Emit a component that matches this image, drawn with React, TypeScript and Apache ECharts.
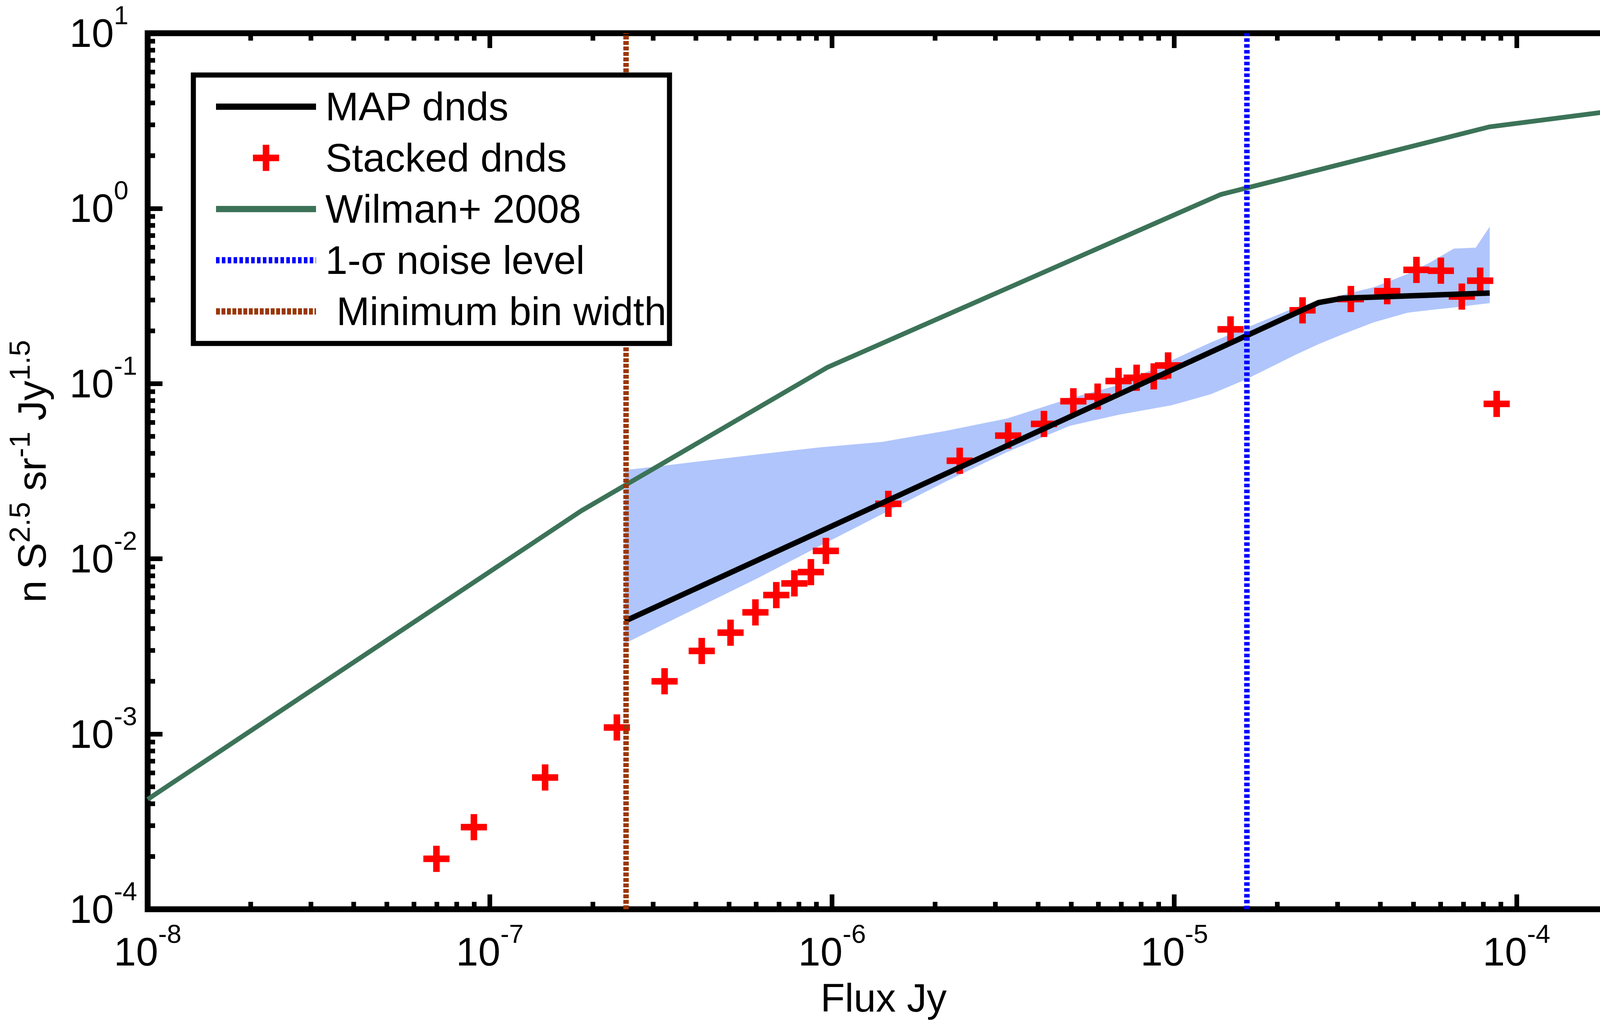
import React, { useEffect, useRef } from "react";
import * as echarts from "echarts";

const FONT = '"Liberation Sans", Arial, Helvetica, sans-serif';

const X_MIN = 1e-8;
const X_MAX = 2e-4;
const Y_MIN = 1e-4;
const Y_MAX = 10;

// Stacked dnds (red crosses)
const stackedFlux = [
  6.98e-8, 8.98e-8, 1.45e-7, 2.35e-7, 3.24e-7, 4.16e-7, 5.05e-7, 5.97e-7, 6.87e-7,
  7.76e-7, 8.67e-7, 9.59e-7, 1.46e-6, 2.36e-6, 3.27e-6, 4.16e-6, 5.07e-6, 5.97e-6,
  6.87e-6, 7.76e-6, 8.71e-6, 9.59e-6, 1.46e-5, 2.37e-5, 3.28e-5, 4.19e-5, 5.1e-5,
  6.01e-5, 6.92e-5, 7.83e-5, 8.75e-5,
];
const stackedDnds = [
  1.94e-4, 2.94e-4, 5.65e-4, 1.09e-3, 2.0e-3, 2.98e-3, 3.79e-3, 4.95e-3, 6.21e-3,
  7.24e-3, 8.4e-3, 0.0111, 0.0206, 0.0363, 0.0505, 0.0589, 0.0793, 0.0843,
  0.1035, 0.108, 0.11, 0.127, 0.204, 0.262, 0.304, 0.337, 0.446,
  0.441, 0.314, 0.387, 0.0766,
];

// MAP dnds (black line)
const mapFlux = [2.48e-7, 2.64e-5, 3.1e-5, 8.35e-5];
const mapDnds = [4.41e-3, 0.29, 0.307, 0.329];

// Wilman+ 2008 (green line)
const wilmanFlux = [1e-8, 1.85e-7, 9.7e-7, 1.365e-5, 8.32e-5, 2e-4];
const wilmanDnds = [4.24e-4, 0.0188, 0.124, 1.2, 2.92, 3.64];

// Uncertainty band
const bandFlux = [
  2.48e-7, 3.21e-7, 6.03e-7, 9.25e-7, 1.4e-6, 2.14e-6, 3.24e-6, 4.94e-6, 6.9e-6,
  9.84e-6, 1.28e-5, 1.62e-5, 2.26e-5, 2.64e-5, 3.1e-5, 3.83e-5, 4.81e-5, 5.58e-5,
  6.56e-5, 7.6e-5, 8.35e-5,
];
const bandUpper = [
  0.0321, 0.034, 0.0394, 0.0433, 0.0465, 0.0537, 0.0632, 0.0822, 0.0984,
  0.136, 0.172, 0.208, 0.272, 0.296, 0.321, 0.355, 0.423, 0.491,
  0.59, 0.597, 0.787,
];
const bandLower = [
  3.29e-3, 4.22e-3, 7.71e-3, 0.0119, 0.018, 0.0275, 0.0406, 0.0574, 0.0665,
  0.0753, 0.0871, 0.1057, 0.146, 0.168, 0.191, 0.224, 0.254, 0.263,
  0.272, 0.282, 0.288,
];

const noiseLevel = 1.63e-5;
const minBinWidth = 2.5e-7;

// Ticks
const xDecades = [1e-8, 1e-7, 1e-6, 1e-5, 1e-4];
const yDecades = [1e-4, 1e-3, 1e-2, 1e-1, 1];
const minorMultipliers = [2, 3, 4, 5, 6, 7, 8, 9];

const legendNames = [
  "MAP dnds",
  "Stacked dnds",
  "Wilman+ 2008",
  "1-σ noise level",
  "Minimum bin width",
];

const C_BLACK = "#000000";
const C_RED = "#ff0000";
const C_GREEN = "#3c7358";
const C_BLUE = "#0000ff";
const C_BROWN = "#9a3706";
const C_BAND = "#b0c5fb";
const NO_FILL = "rgba(0,0,0,0)";

const PLUS = "path://M37.5,0H62.5V37.5H100V62.5H62.5V100H37.5V62.5H0V37.5H37.5Z";

const FS = 102;
const FS_SUP = 67;
const MAJOR_LEN = 38;
const MINOR_LEN = 19;
const TICK_W = 12;

const expFormatter = (v: number) => {
  const e = Math.log10(v);
  const r = Math.round(e);
  if (Math.abs(e - r) > 1e-6) return "";
  return `{a|10}{b|${r}}`;
};

const tickRich = {
  a: { fontSize: FS, fontFamily: FONT, color: "#000", lineHeight: 160 },
  b: { fontSize: FS_SUP, fontFamily: FONT, color: "#000", lineHeight: 64, verticalAlign: "top" },
};

export default function App() {
  const ref = useRef<HTMLDivElement>(null);

  useEffect(() => {
    if (!ref.current) return;
    const chart = echarts.init(ref.current, undefined, { renderer: "svg" });

    const xMinor: number[] = [];
    xDecades.forEach((d) =>
      minorMultipliers.forEach((m) => {
        const v = d * m;
        if (v < X_MAX * 0.999) xMinor.push(v);
      })
    );
    const yMinor: number[] = [];
    yDecades.forEach((d) => minorMultipliers.forEach((m) => yMinor.push(d * m)));

    const tickStyle = { stroke: "#000", lineWidth: TICK_W };

    const option: any = {
      animation: false,
      backgroundColor: "#ffffff",
      textStyle: { fontFamily: FONT },
      grid: {
        left: 378,
        right: 8,
        top: 85,
        bottom: 286,
        show: true,
        borderColor: "#000",
        borderWidth: 15,
        backgroundColor: "rgba(0,0,0,0)",
      },
      legend: {
        show: true,
        orient: "vertical",
        left: 495,
        top: 192,
        padding: [30, 8, 31, 50],
        itemWidth: 256,
        itemHeight: 67,
        itemGap: 29,
        borderColor: "#000",
        borderWidth: 13,
        backgroundColor: "#ffffff",
        selectedMode: false,
        data: legendNames,
        lineStyle: { width: 16 },
        formatter: (name: string) =>
          name === "Minimum bin width" ? `{t|\u00a0${name}}` : `{t|${name}}`,
        textStyle: {
          fontSize: FS,
          fontFamily: FONT,
          color: "#000",
          lineHeight: 100,
          rich: {
            t: { fontSize: FS, fontFamily: FONT, color: "#000", lineHeight: 100, padding: [0, 0, 0, 19] },
          },
        },
        z: 10,
      },
      xAxis: [
        {
          type: "log",
          logBase: 10,
          min: X_MIN,
          max: X_MAX,
          position: "bottom",
          axisLine: { show: false },
          splitLine: { show: false },
          axisTick: { show: true, inside: true, length: MAJOR_LEN, lineStyle: { color: "#000", width: TICK_W } },
          axisLabel: { show: true, margin: 29, formatter: expFormatter, rich: tickRich, showMaxLabel: false },
          name: "Flux Jy",
          nameLocation: "middle",
          nameGap: 176,
          nameTextStyle: { fontSize: FS, fontFamily: FONT, color: "#000" },
        },
        {
          type: "log",
          logBase: 10,
          min: X_MIN,
          max: X_MAX,
          position: "top",
          axisLine: { show: false },
          splitLine: { show: false },
          axisTick: { show: true, inside: true, length: MAJOR_LEN, lineStyle: { color: "#000", width: TICK_W } },
          axisLabel: { show: false },
        },
      ],
      yAxis: [
        {
          type: "log",
          logBase: 10,
          min: Y_MIN,
          max: Y_MAX,
          position: "left",
          axisLine: { show: false },
          splitLine: { show: false },
          axisTick: { show: true, inside: true, length: MAJOR_LEN, lineStyle: { color: "#000", width: TICK_W } },
          axisLabel: { show: true, align: "left", margin: 200, formatter: expFormatter, rich: tickRich },
          name: "{a|n S}{b|2.5}{a| sr}{b|-1}{a| Jy}{b|1.5}",
          nameLocation: "middle",
          nameRotate: 90,
          nameGap: 226,
          nameTextStyle: {
            fontSize: FS,
            fontFamily: FONT,
            color: "#000",
            rich: {
              a: { fontSize: FS, fontFamily: FONT, color: "#000", lineHeight: 140 },
              b: { fontSize: 75, fontFamily: FONT, color: "#000", lineHeight: 62, verticalAlign: "top" },
            },
          },
        },
        {
          type: "log",
          logBase: 10,
          min: Y_MIN,
          max: Y_MAX,
          position: "right",
          axisLine: { show: false },
          splitLine: { show: false },
          axisTick: { show: true, inside: true, length: MAJOR_LEN, lineStyle: { color: "#000", width: TICK_W } },
          axisLabel: { show: false },
        },
      ],
      series: [
        {
          type: "custom",
          name: "band",
          silent: true,
          z: 1,
          xAxisIndex: 0,
          yAxisIndex: 0,
          data: [[bandFlux[0], bandUpper[0]]],
          renderItem: (_p: any, api: any) => {
            const pts: number[][] = [];
            for (let i = 0; i < bandFlux.length; i++) pts.push(api.coord([bandFlux[i], bandUpper[i]]));
            for (let i = bandFlux.length - 1; i >= 0; i--) pts.push(api.coord([bandFlux[i], bandLower[i]]));
            return { type: "polygon", shape: { points: pts }, style: { fill: C_BAND } };
          },
        },
        {
          type: "scatter",
          name: "Stacked dnds",
          z: 2,
          symbol: PLUS,
          symbolSize: 67,
          itemStyle: { color: C_RED, opacity: 1 },
          data: stackedFlux.map((x, i) => [x, stackedDnds[i]]),
        },
        {
          type: "line",
          name: "Wilman+ 2008",
          z: 3,
          symbol: "none",
          lineStyle: { color: C_GREEN, width: 12 },
          itemStyle: { color: NO_FILL, borderWidth: 0 },
          data: wilmanFlux.map((x, i) => [x, wilmanDnds[i]]),
        },
        {
          type: "line",
          name: "MAP dnds",
          z: 4,
          symbol: "none",
          lineStyle: { color: C_BLACK, width: 14 },
          itemStyle: { color: NO_FILL, borderWidth: 0 },
          data: mapFlux.map((x, i) => [x, mapDnds[i]]),
        },
        {
          type: "line",
          name: "1-σ noise level",
          z: 5,
          symbol: "none",
          lineStyle: { color: C_BLUE, width: 14, type: [9, 6] },
          itemStyle: { color: NO_FILL, borderWidth: 0 },
          data: [
            [noiseLevel, Y_MIN],
            [noiseLevel, Y_MAX],
          ],
        },
        {
          type: "line",
          name: "Minimum bin width",
          z: 5,
          symbol: "none",
          lineStyle: { color: C_BROWN, width: 14, type: [10, 4] },
          itemStyle: { color: NO_FILL, borderWidth: 0 },
          data: [
            [minBinWidth, Y_MIN],
            [minBinWidth, Y_MAX],
          ],
        },
        {
          type: "custom",
          name: "xMinorTicks",
          silent: true,
          z: 6,
          data: xMinor.map((v) => [v, 1]),
          renderItem: (_p: any, api: any) => {
            const v = api.value(0);
            const b = api.coord([v, Y_MIN]);
            const t = api.coord([v, Y_MAX]);
            return {
              type: "group",
              children: [
                { type: "line", shape: { x1: b[0], y1: b[1], x2: b[0], y2: b[1] - MINOR_LEN }, style: tickStyle },
                { type: "line", shape: { x1: t[0], y1: t[1], x2: t[0], y2: t[1] + MINOR_LEN }, style: tickStyle },
              ],
            };
          },
        },
        {
          type: "custom",
          name: "yMinorTicks",
          silent: true,
          z: 6,
          data: yMinor.map((v) => [1e-6, v]),
          renderItem: (_p: any, api: any) => {
            const v = api.value(1);
            const l = api.coord([X_MIN, v]);
            const r = api.coord([X_MAX, v]);
            return {
              type: "group",
              children: [
                { type: "line", shape: { x1: l[0], y1: l[1], x2: l[0] + MINOR_LEN, y2: l[1] }, style: tickStyle },
                { type: "line", shape: { x1: r[0], y1: r[1], x2: r[0] - MINOR_LEN, y2: r[1] }, style: tickStyle },
              ],
            };
          },
        },
      ],
    };

    chart.setOption(option);
    return () => chart.dispose();
  }, []);

  return (
    <div
      ref={ref}
      style={{ position: "fixed", left: 0, top: 0, width: 4154, height: 2613, background: "#fff" }}
    />
  );
}
